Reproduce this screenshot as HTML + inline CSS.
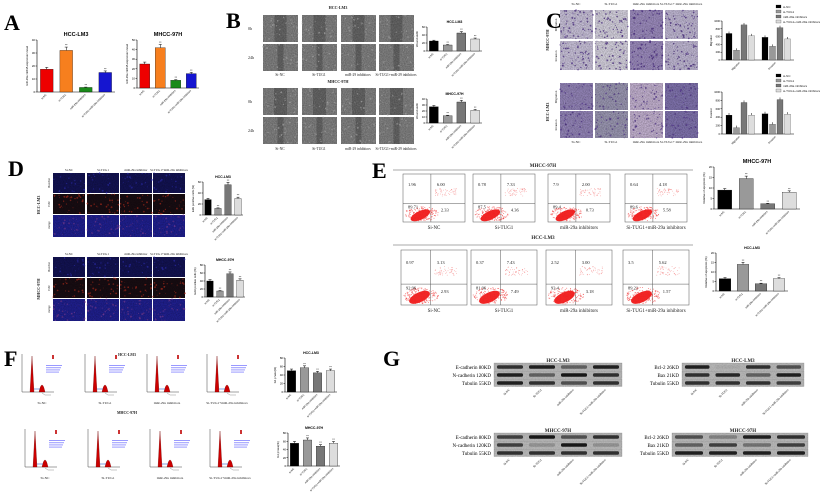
<!DOCTYPE html>
<html><head><meta charset="utf-8">
<style>
html,body{margin:0;padding:0;background:#fff;}
svg{display:block;font-family:"Liberation Serif",serif;}
</style></head>
<body>
<svg id="fig" width="825" height="497" viewBox="0 0 825 497" xmlns="http://www.w3.org/2000/svg">
<defs>
<filter id="noise" x="0" y="0" width="100%" height="100%">
<feTurbulence type="fractalNoise" baseFrequency="0.9" numOctaves="2" seed="3"/>
<feColorMatrix type="matrix" values="0 0 0 0 0  0 0 0 0 0  0 0 0 0 0  0 0 0 -1.2 1.1"/>
</filter>
</defs>
<text x="4" y="30" font-size="22" font-weight="bold">A</text>
<text x="226" y="28" font-size="22" font-weight="bold">B</text>
<text x="546" y="28" font-size="22" font-weight="bold">C</text>
<text x="8" y="176" font-size="22" font-weight="bold">D</text>
<text x="372" y="178" font-size="22" font-weight="bold">E</text>
<text x="4" y="366" font-size="22" font-weight="bold">F</text>
<text x="383" y="366" font-size="22" font-weight="bold">G</text>
</svg>
<script>
// ---- chart data ----
const cats = ['si-NC','si-TUG1','miR-29a inhibitors','si-TUG1+miR-29a inhibitors'];
const valsA1 = [17.5, 32, 3.5, 15];
const valsA2 = [25, 42, 8, 15];
const ticksA1 = [0, 10, 20, 30, 40];
const ticksA2 = [0, 10, 20, 30, 40, 50];
const valsB1 = [25, 15, 45, 30];
const valsB2 = [27, 12, 35, 21];
const groupsC = ['Migration','Invasion'];
const valsCtopMig = [680, 250, 900, 620];
const valsCtopInv = [580, 350, 830, 540];
const valsCbotMig = [450, 150, 750, 450];
const valsCbotInv = [480, 230, 820, 470];
const valsD1 = [28, 12, 55, 30];
const valsD2 = [40, 15, 58, 42];
const valsE1 = [9, 14.5, 2.5, 8];
const valsE2 = [6.5, 14, 3.8, 6.5];
const valsF1 = [50, 57, 45, 50];
const valsF2 = [55, 63, 48, 55];
const quadE1 = [[1.96,6.00,89.71,2.33],[0.78,7.33,87.5,4.36],[7.90,2.00,89.40,0.73],[0.64,4.18,89.60,5.58]];
const quadE2 = [[0.97,3.13,92.96,2.93],[0.37,7.43,81.96,7.49],[2.52,3.00,93.40,3.18],[3.5,5.62,89.21,1.57]];
const bandsG1a = [[0.8,0.9,0.5,0.9],[0.9,0.5,0.95,0.8],[0.9,0.8,0.6,0.8]];
const bandsG1b = [[0.9,0.05,0.8,0.6],[0.8,0.85,0.5,0.9],[0.8,0.8,0.8,0.7]];
const bandsG2a = [[0.7,0.95,0.6,0.8],[0.7,0.2,0.95,0.2],[0.8,0.8,0.8,0.8]];
const bandsG2b = [[0.6,0.3,0.9,0.8],[0.5,0.7,0.4,0.7],[0.9,0.9,0.9,0.9]];

const NS='http://www.w3.org/2000/svg';
const svg=document.getElementById('fig');
let seed=12345;
function rnd(){seed=(seed*1103515245+12345)%2147483648;return seed/2147483648;}
function fmt(v){return Number.isInteger(v)?v.toFixed(2):String(v);}
function mk(tag,attrs,name,parent){
  const el=document.createElementNS(NS,tag);
  for(const k in attrs)el.setAttribute(k,attrs[k]);
  
  
  (parent||svg).appendChild(el);
  return el;
}
function txt(x,y,s,size,name,extra){
  const a=Object.assign({x:x,y:y,'font-size':size,fill:'#222'},extra||{});
  const t=mk('text',a,name);
  t.textContent=s;
  return t;
}
function barChart(x,y,w,h,vals,ticks,colors,title,name,ylab){
  const max=ticks[ticks.length-1];
  const g=mk('g',{},name);
  const sy=v=>y+h-v/max*h;
  mk('line',{x1:x,y1:y,x2:x,y2:y+h,stroke:'#000','stroke-width':0.6},name+'-y-axis',g);
  mk('line',{x1:x,y1:y+h,x2:x+w,y2:y+h,stroke:'#000','stroke-width':0.6},name+'-x-axis',g);
  ticks.forEach(t=>{
    mk('line',{x1:x-1.5,y1:sy(t),x2:x,y2:sy(t),stroke:'#000','stroke-width':0.5},name+'-tick',g);
    const tt=mk('text',{x:x-2,y:sy(t)+1,'font-size':2.8,'text-anchor':'end','font-family':'Liberation Sans'},name+'-tick-label',g);
    tt.textContent=t;
  });
  const n=vals.length, slot=w/n, bw=slot*0.65;
  vals.forEach((v,i)=>{
    const bx=x+slot*i+(slot-bw)/2;
    mk('rect',{x:bx,y:sy(v),width:bw,height:y+h-sy(v),fill:colors[i],stroke:'#000','stroke-width':0.3},name+'-bar',g);
    mk('line',{x1:bx+bw/2,y1:sy(v),x2:bx+bw/2,y2:sy(v*1.08),stroke:'#000','stroke-width':0.5},name+'-error-bar',g);
    mk('line',{x1:bx+bw/2-1.5,y1:sy(v*1.08),x2:bx+bw/2+1.5,y2:sy(v*1.08),stroke:'#000','stroke-width':0.5},name+'-error-cap',g);
    const l=mk('text',{x:bx+bw/2,y:y+h+3,'font-size':2.6,'text-anchor':'end','font-family':'Liberation Sans',transform:`rotate(-45 ${bx+bw/2} ${y+h+3})`},name+'-category-label',g);
    l.textContent=cats[i];
    if(i>0){const s=mk('text',{x:bx+bw/2,y:sy(v*1.08)-1,'font-size':2.6,'text-anchor':'middle'},name+'-significance',g);s.textContent='**';}
  });
  const tl=mk('text',{x:x+w/2,y:y-4,'font-size':h>40?5.5:3.5,'text-anchor':'middle','font-weight':'bold','font-family':'Liberation Sans'},name+'-title',g);
  tl.textContent=title;
  if(ylab){const yl=mk('text',{x:x-9,y:y+h/2,'font-size':2.8,'text-anchor':'middle','font-family':'Liberation Sans',transform:`rotate(-90 ${x-9} ${y+h/2})`},name+'-y-title',g);yl.textContent=ylab;}
}
function groupedChart(x,y,w,h,series,max,title,name){
  const g=mk('g',{},name);
  const colors=['#000','#999','#777','#ddd'];
  const sy=v=>y+h-v/max*h;
  mk('line',{x1:x,y1:y,x2:x,y2:y+h,stroke:'#000','stroke-width':0.6},name+'-y-axis',g);
  mk('line',{x1:x,y1:y+h,x2:x+w,y2:y+h,stroke:'#000','stroke-width':0.6},name+'-x-axis',g);
  [0,200,400,600,800,1000].forEach(t=>{
    mk('line',{x1:x-1.5,y1:sy(t),x2:x,y2:sy(t),stroke:'#000','stroke-width':0.5},name+'-tick',g);
    const tt=mk('text',{x:x-2,y:sy(t)+1,'font-size':2.6,'text-anchor':'end','font-family':'Liberation Sans'},name+'-tick-label',g);tt.textContent=t;
  });
  const gw=w/2;
  series.forEach((vals,gi)=>{
    vals.forEach((v,i)=>{
      const bx=x+gi*gw+4+i*7.5;
      mk('rect',{x:bx,y:sy(v),width:6,height:y+h-sy(v),fill:colors[i],stroke:'#000','stroke-width':0.2},name+'-bar',g);
      mk('line',{x1:bx+3,y1:sy(v),x2:bx+3,y2:sy(v+50),stroke:'#000','stroke-width':0.5},name+'-error-bar',g);
    });
    const l=mk('text',{x:x+gi*gw+gw/2,y:y+h+3,'font-size':2.6,'text-anchor':'end','font-family':'Liberation Sans',transform:`rotate(-45 ${x+gi*gw+gw/2} ${y+h+3})`},name+'-group-label',g);
    l.textContent=groupsC[gi];
  });
  const yl=mk('text',{x:x-10,y:y+h/2,'font-size':2.8,'text-anchor':'middle','font-family':'Liberation Sans',transform:`rotate(-90 ${x-10} ${y+h/2})`},name+'-y-title',g);yl.textContent=title;
}
function legendC(x,y,name){
  const colors=['#000','#999','#777','#ddd'];
  cats.forEach((c,i)=>{
    mk('rect',{x:x,y:y+i*5,width:5,height:3,fill:colors[i],stroke:'#000','stroke-width':0.2},name+'-swatch');
    txt(x+7,y+i*5+3,c,3,name+'-label',{'font-family':'Liberation Sans'});
  });
}
function micro(x,y,w,h,fill,name,dots,dotColor,band){
  mk('rect',{x:x,y:y,width:w,height:h,fill:fill},name);
  if(band){mk('rect',{x:x+w*0.5-band[0]/2,y:y,width:band[0],height:h,fill:band[1]},name+'-scratch');}
  for(let i=0;i<dots;i++){
    mk('circle',{cx:x+rnd()*w,cy:y+rnd()*h,r:0.3+rnd()*0.7,fill:dotColor,opacity:0.7},name+'-cell');
  }
  mk('rect',{x:x,y:y,width:w,height:h,filter:'url(#noise)',opacity:0.35},name+'-texture');
}
function flow(x,y,w,h,q,name,label){
  const g=mk('g',{},name);
  mk('rect',{x:x,y:y,width:w,height:h,fill:'#fff',stroke:'#555','stroke-width':0.5},name+'-frame',g);
  const qx=x+w*0.45,qy=y+h*0.62;
  mk('line',{x1:qx,y1:y,x2:qx,y2:y+h,stroke:'#555','stroke-width':0.5},name+'-quad-v',g);
  mk('line',{x1:x,y1:qy,x2:x+w,y2:qy,stroke:'#555','stroke-width':0.5},name+'-quad-h',g);
  mk('ellipse',{cx:x+w*0.28,cy:y+h*0.86,rx:w*0.17,ry:h*0.09,fill:'#e00',opacity:0.85,transform:`rotate(-25 ${x+w*0.28} ${y+h*0.86})`},name+'-live-cluster',g);
  for(let i=0;i<160;i++){
    const a=rnd()*6.28,r=Math.sqrt(rnd());
    mk('circle',{cx:x+w*0.3+Math.cos(a)*r*w*0.27,cy:y+h*0.83+Math.sin(a)*r*h*0.15,r:0.5,fill:'#e22',opacity:0.6},name+'-event',g);
  }
  for(let i=0;i<50;i++){
    mk('circle',{cx:qx+4+rnd()*w*0.35,cy:y+h*0.3+rnd()*h*0.16,r:0.4,fill:'#e44',opacity:0.6},name+'-apoptotic-event',g);
  }
  const fs=4.5;
  txt(x+5,y+h*0.25,fmt(q[0]),fs,name+'-q1');
  txt(qx+6,y+h*0.25,fmt(q[1]),fs,name+'-q2');
  txt(x+5,y+h*0.72,fmt(q[2]),fs,name+'-q3');
  txt(qx+10,y+h*0.78,fmt(q[3]),fs,name+'-q4');
  txt(x+w/2,y+h+7,label,5,name+'-label',{'text-anchor':'middle'});
}
function hist(x,y,name,label){
  const g=mk('g',{},name);
  const w=32,h=38;
  mk('line',{x1:x,y1:y,x2:x,y2:y+h,stroke:'#444','stroke-width':0.5},name+'-y-axis',g);
  mk('line',{x1:x,y1:y+h,x2:x+w,y2:y+h,stroke:'#444','stroke-width':0.5},name+'-x-axis',g);
  mk('path',{d:`M${x+8} ${y+h} L${x+10} ${y+2} L${x+12} ${y+h} Z`,fill:'#c00',stroke:'#600','stroke-width':0.3},name+'-g1-peak',g);
  mk('path',{d:`M${x+17} ${y+h} Q${x+20} ${y+h-14} ${x+23} ${y+h} Z`,fill:'#c00',stroke:'#600','stroke-width':0.3},name+'-g2-peak',g);
  mk('path',{d:`M${x+12} ${y+h-3} L${x+18} ${y+h-3}`,stroke:'#36c','stroke-width':0.6},name+'-s-phase',g);
  mk('path',{d:`M${x+20} ${y+h+1} l3 2 l6 0`,stroke:'#777',fill:'none','stroke-width':0.4},name+'-gate',g);
  mk('rect',{x:x+30,y:y+1,width:2,height:4,fill:'#c33'},name+'-legend-key',g);
  for(let i=0;i<4;i++){
    mk('rect',{x:x+24,y:y+11+i*2.2,width:16-i,height:1,fill:'#99f'},name+'-stats-text',g);
  }
  txt(x+20,y+h+12,label,3.5,name+'-label',{'text-anchor':'middle'});
}
function blot(x,y,w,rowsH,bands,labels,name){
  const g=mk('g',{},name);
  let yy=y;
  bands.forEach((row,ri)=>{
    mk('rect',{x:x,y:yy,width:w,height:rowsH-0.6,fill:'#bdbdbd',stroke:'#888','stroke-width':0.3},name+'-strip',g);
    row.forEach((v,i)=>{
      mk('rect',{x:x+w/4*i+3,y:yy+rowsH/2-1.8,width:w/4-6,height:3.6,rx:1.5,fill:'#111',opacity:v},name+'-band',g);
    });
    const t=mk('text',{x:x-3,y:yy+rowsH/2+1.8,'font-size':5,'text-anchor':'end'},name+'-label',g);t.textContent=labels[ri];
    yy+=rowsH;
  });
  mk('rect',{x:x,y:y,width:w,height:yy-y,filter:'url(#noise)',opacity:0.15},name+'-texture',g);
  cats.forEach((c,i)=>{
    const lx=x+w/4*i+w/8;
    const l=mk('text',{x:lx,y:yy+3,'font-size':3,'text-anchor':'end',transform:`rotate(-45 ${lx} ${yy+3})`},name+'-lane-label',g);
    l.textContent=['Si-NC','Si-TUG1','miR-29a inhibitors','Si-TUG1+miR-29a inhibitors'][i];
  });
}

// ---- Panel A ----
barChart(37,40,78,52,valsA1,ticksA1,['#e00','#f77f1e','#1a8a1a','#1515d0'],'HCC-LM3','chart-a-hcclm3','miR-29a mRNA expression level');
barChart(137,40,62,48,valsA2,ticksA2,['#e00','#f77f1e','#1a8a1a','#1515d0'],'MHCC-97H','chart-a-mhcc97h','miR-29a mRNA expression level');

// ---- Panel B ----
const bx=[263,302,341,379];
const bLabels=['Si-NC','Si-TUG1','miR-29 inhibitors','Si-TUG1+miR-29 inhibitors'];
txt(338,9,'HCC-LM3',4,'b-title-hcclm3',{'text-anchor':'middle','font-weight':'bold'});
txt(338,83,'MHCC-97H',4,'b-title-mhcc97h',{'text-anchor':'middle','font-weight':'bold'});
[[15,'0h',12],[44,'24h',6],[88,'0h',13],[117,'24h',6]].forEach(r=>{
  txt(248,r[0]+15,r[1],4,'b-time-label');
  bx.forEach(x=>micro(x,r[0],35,27,'#8c8c8c','b-scratch-image',25,'#bbb',[r[2],'#6e6e6e']));
});
bx.forEach((x,i)=>{txt(x+17,76,bLabels[i],3.6,'b-group-label',{'text-anchor':'middle'});txt(x+17,150,bLabels[i],3.6,'b-group-label',{'text-anchor':'middle'});});
barChart(427,27,55,24,valsB1,[0,20,40,60],['#000','#999','#777','#ddd'],'HCC-LM3','chart-b-hcclm3','Wound width');
barChart(427,99,55,24,valsB2,[0,10,20,30,40],['#000','#999','#777','#ddd'],'MHCC-97H','chart-b-mhcc97h','Wound width');

// ---- Panel C ----
const cx=[560,595,630,665];
const cLabels=['Si-NC','Si-TUG1','miR-29a inhibitors','Si-TUG1+ miR-29a inhibitors'];
cx.forEach((x,i)=>txt(x+16,5,cLabels[i],3.5,'c-group-label',{'text-anchor':'middle'}));
cx.forEach((x,i)=>txt(x+16,143,cLabels[i],3.5,'c-group-label',{'text-anchor':'middle'}));
const cTopFill=['#d8d0ea','#e6e2f0','#a896cc','#cfc6e4'];
const cBotFill=['#9f8fc6','#a7a3c0','#d2bfe0','#8a7cbb'];
[[10,'Migration'],[41,'Invasion']].forEach(r=>cx.forEach((x,i)=>micro(x,r[0],33,29,cTopFill[i],'c-transwell-image',60,'#4b2a8c')));
[[83,'Migration'],[111,'Invasion']].forEach(r=>cx.forEach((x,i)=>micro(x,r[0],33,27,cBotFill[i],'c-transwell-image',40,'#5a3a99')));
txt(549,40,'MHCC-97H',4,'c-row-title',{transform:'rotate(-90 549 40)','text-anchor':'middle','font-weight':'bold'});
txt(549,112,'HCC-LM3',4,'c-row-title',{transform:'rotate(-90 549 112)','text-anchor':'middle','font-weight':'bold'});
txt(557,25,'Migration',3.2,'c-row-label',{transform:'rotate(-90 557 25)','text-anchor':'middle'});
txt(557,56,'Invasion',3.2,'c-row-label',{transform:'rotate(-90 557 56)','text-anchor':'middle'});
txt(557,97,'Migration',3.2,'c-row-label',{transform:'rotate(-90 557 97)','text-anchor':'middle'});
txt(557,125,'Invasion',3.2,'c-row-label',{transform:'rotate(-90 557 125)','text-anchor':'middle'});
legendC(776,5,'c-legend-top');
legendC(776,74,'c-legend-bottom');
groupedChart(722,21,72,39,[valsCtopMig,valsCtopInv],1000,'Migration','chart-c-mhcc97h');
groupedChart(722,92,72,42,[valsCbotMig,valsCbotInv],1000,'Invasion','chart-c-hcclm3');

// ---- Panel D ----
const dx=[53,87,120,153];
const dLabels=['Si-NC','Si-TUG1','miR-29a inhibitor','Si-TUG1+miR-29a inhibitors'];
[[173,'HCC-LM3'],[257,'MHCC-97H']].forEach((blk)=>{
  dx.forEach((x,i)=>txt(x+16,blk[0]-2,dLabels[i],3.2,'d-group-label',{'text-anchor':'middle'}));
  dx.forEach(x=>{
    micro(x,blk[0],32,20,'#141459','d-hoechst-image',20,'#3030c0');
    micro(x,blk[0]+21,32,20,'#1a0e14','d-edu-image',30,'#c03020');
    micro(x,blk[0]+42,32,22,'#22229a','d-merge-image',30,'#8040a0');
  });
  txt(40,blk[0]+32,blk[1],4,'d-row-title',{transform:`rotate(-90 40 ${blk[0]+32})`,'text-anchor':'middle','font-weight':'bold'});
  ['Hoechst','EdU','merge'].forEach((s,k)=>txt(50,blk[0]+10+k*21,s,3,'d-stain-label',{transform:`rotate(-90 50 ${blk[0]+10+k*21})`,'text-anchor':'middle'}));
});
barChart(203,182,40,33,valsD1,[0,20,40,60],['#000','#999','#777','#ddd'],'HCC-LM3','chart-d-hcclm3','EdU positive cells (%)');
barChart(205,265,40,32,valsD2,[0,20,40,60,80],['#000','#999','#777','#ddd'],'MHCC-97H','chart-d-mhcc97h','EdU positive cells (%)');

// ---- Panel E ----
const ex=[403,473,548,625];
const eLabels=['Si-NC','Si-TUG1','miR-29a inhibitors','Si-TUG1+miR-29a inhibitors'];
txt(543,167,'MHCC-97H',5,'e-title-mhcc97h',{'text-anchor':'middle','font-weight':'bold'});
mk('line',{x1:393,y1:170,x2:693,y2:170,stroke:'#555','stroke-width':0.6},'e-divider-top');
ex.forEach((x,i)=>flow(x,174,62,48,quadE1[i],'e-flow-plot-mhcc97h',eLabels[i]));
txt(543,239,'HCC-LM3',5,'e-title-hcclm3',{'text-anchor':'middle','font-weight':'bold'});
mk('line',{x1:393,y1:245,x2:693,y2:245,stroke:'#555','stroke-width':0.6},'e-divider-bottom');
ex.forEach((x,i)=>flow(x-2,250,66,55,quadE2[i],'e-flow-plot-hcclm3',eLabels[i]));
barChart(714,167,86,42,valsE1,[0,5,10,15,20],['#000','#999','#777','#ddd'],'MHCC-97H','chart-e-mhcc97h','Relative of apoptosis (%)');
barChart(716,253,72,38,valsE2,[0,5,10,15,20],['#000','#999','#777','#ddd'],'HCC-LM3','chart-e-hcclm3','Relative of apoptosis (%)');

// ---- Panel F ----
const fx=[22,85,147,207];
const fLabels=['Si-NC','Si-TUG1','miR-29a inhibitors','Si-TUG1+miR-29a inhibitors'];
txt(127,356,'HCC-LM3',3.8,'f-title-hcclm3',{'text-anchor':'middle','font-weight':'bold'});
fx.forEach((x,i)=>hist(x,354,'f-histogram-hcclm3',fLabels[i]));
txt(127,414,'MHCC-97H',3.8,'f-title-mhcc97h',{'text-anchor':'middle','font-weight':'bold'});
fx.forEach((x,i)=>hist(x+3,429,'f-histogram-mhcc97h',fLabels[i]));
barChart(285,358,52,34,valsF1,[0,20,40,60,80],['#000','#999','#777','#ddd'],'HCC-LM3','chart-f-hcclm3','G1 phase(%)');
barChart(288,433,52,33,valsF2,[0,20,40,60,80],['#000','#999','#777','#ddd'],'MHCC-97H','chart-f-mhcc97h','G1 phase(%)');

// ---- Panel G ----
txt(558,362,'HCC-LM3',5,'g-title',{'text-anchor':'middle','font-weight':'bold'});
txt(743,362,'HCC-LM3',5,'g-title',{'text-anchor':'middle','font-weight':'bold'});
txt(558,432,'MHCC-97H',5,'g-title',{'text-anchor':'middle','font-weight':'bold'});
txt(743,432,'MHCC-97H',5,'g-title',{'text-anchor':'middle','font-weight':'bold'});
blot(494,363,128,8,bandsG1a,['E-cadherin  80KD','N-cadherin  120KD','Tubulin  55KD'],'g-blot-emt-hcclm3');
blot(682,363,122,8,bandsG1b,['Bcl-2  26KD','Bax  21KD','Tubulin  55KD'],'g-blot-apoptosis-hcclm3');
blot(494,433,128,8,bandsG2a,['E-cadherin  80KD','N-cadherin  120KD','Tubulin  55KD'],'g-blot-emt-mhcc97h');
blot(672,433,136,8,bandsG2b,['Bcl-2  26KD','Bax  21KD','Tubulin  55KD'],'g-blot-apoptosis-mhcc97h');
</script>
</body></html>
